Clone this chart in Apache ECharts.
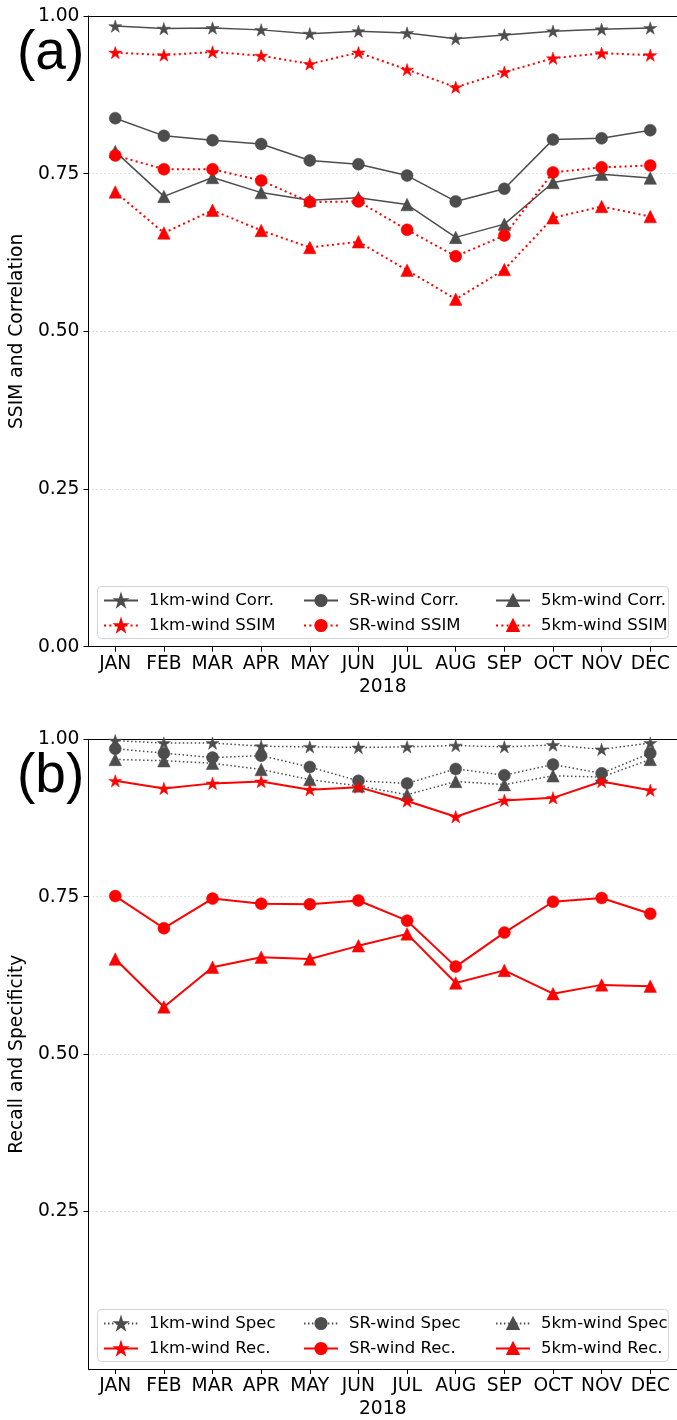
<!DOCTYPE html>
<html>
<head>
<meta charset="utf-8">
<script src="https://cdn.jsdelivr.net/npm/echarts@6/dist/echarts.min.js"></script>
<style>
html,body{margin:0;padding:0;background:#fff;}
#chart{width:677px;height:1420px;}
</style>
</head>
<body>
<div id="chart"></div>
<script>
// ---------- data ----------
const months = ['JAN','FEB','MAR','APR','MAY','JUN','JUL','AUG','SEP','OCT','NOV','DEC'];
const yTicks = [0, 0.25, 0.5, 0.75, 1.0];
const yTicksB = [0.25, 0.5, 0.75, 1.0];
// panel (a)
const corr1km = [0.984,0.980,0.981,0.978,0.972,0.976,0.973,0.964,0.970,0.976,0.979,0.981];
const ssim1km = [0.942,0.938,0.943,0.937,0.924,0.942,0.915,0.887,0.911,0.933,0.941,0.938];
const corrSR  = [0.838,0.810,0.803,0.797,0.771,0.765,0.747,0.706,0.726,0.804,0.806,0.819];
const ssimSR  = [0.779,0.757,0.757,0.739,0.705,0.706,0.661,0.619,0.652,0.752,0.760,0.763];
const corr5km = [0.785,0.714,0.744,0.720,0.708,0.712,0.701,0.649,0.670,0.736,0.749,0.743];
const ssim5km = [0.721,0.656,0.692,0.660,0.633,0.642,0.597,0.551,0.598,0.680,0.698,0.682];
// panel (b)
const spec1km = [0.998,0.994,0.994,0.989,0.988,0.987,0.988,0.990,0.988,0.991,0.984,0.994];
const specSR  = [0.985,0.978,0.971,0.974,0.956,0.934,0.930,0.953,0.943,0.960,0.946,0.978];
const spec5km = [0.968,0.966,0.962,0.952,0.936,0.926,0.912,0.933,0.928,0.942,0.940,0.968];
const rec1km  = [0.934,0.922,0.930,0.933,0.920,0.924,0.902,0.877,0.903,0.907,0.933,0.919];
const recSR   = [0.751,0.700,0.747,0.739,0.738,0.744,0.712,0.639,0.693,0.742,0.748,0.723];
const rec5km  = [0.651,0.575,0.638,0.654,0.651,0.672,0.691,0.613,0.633,0.596,0.610,0.608];

// ---------- styling ----------
const GRAY = '#4d4d4d', RED = '#ff0000';
const FONT = 'DejaVu Sans';
function starPath(){
  const pts = [];
  for (let i = 0; i < 10; i++) {
    const r = (i % 2 === 0) ? 1 : 0.381966;
    const a = Math.PI / 2 + i * Math.PI / 5;
    pts.push((r * Math.cos(a)).toFixed(4) + ' ' + (-r * Math.sin(a)).toFixed(4));
  }
  return 'path://M' + pts.join(' L') + ' Z';
}
const STAR = starPath();
const SYM = {star: STAR, circle: 'circle', tri: 'triangle'};
const SIZE = {star: 13, circle: 12, tri: 12.5};
const idx = months.map((m, i) => i);

function mk(name, vals, color, sym, dotted, gi){
  const lw = color === RED ? 2 : 1.5;
  return {
    name: name, type: 'line',
    xAxisIndex: gi * 2, yAxisIndex: gi,
    data: idx.map(i => [i, vals[i]]),
    symbol: SYM[sym], symbolSize: SIZE[sym], symbolKeepAspect: true,
    showAllSymbol: true,
    itemStyle: {color: color, borderColor: color, borderWidth: 0.5, opacity: 1},
    lineStyle: {color: color, width: lw, type: dotted ? [lw, lw * 1.65] : 'solid'},
    emphasis: {disabled: true},
    animation: false
  };
}

const panels = [
  {top: 16, height: 630.7, yname: 'SSIM and Correlation', label: '(a)', legTop: 586, yTickVals: yTicks},
  {top: 739.3, height: 630.4, yname: 'Recall and Specificity', label: '(b)', legTop: 1309, yTickVals: yTicksB}
];
const GL = 86, GW = 594.5;

const grid = [], xAxis = [], yAxis = [];
panels.forEach((p, gi) => {
  grid.push({left: GL, top: p.top, width: GW, height: p.height, containLabel: false});
  xAxis.push({
    type: 'value', gridIndex: gi, min: -0.55, max: 11.55, position: 'bottom',
    axisLine: {show: true, onZero: false, lineStyle: {color: '#000', width: 1}},
    axisTick: {show: true, customValues: idx, length: 5, lineStyle: {color: '#000', width: 1}},
    axisLabel: {show: true, customValues: idx, margin: 8, color: '#000', fontFamily: FONT, fontSize: 18.7,
      formatter: v => months[Math.round(v)]},
    splitLine: {show: false},
    name: '2018', nameLocation: 'middle', nameGap: 31,
    nameTextStyle: {color: '#000', fontFamily: FONT, fontSize: 18.7}
  });
  xAxis.push({
    type: 'value', gridIndex: gi, min: -0.55, max: 11.55, position: 'top',
    axisLine: {show: true, onZero: false, lineStyle: {color: '#000', width: 1}},
    axisTick: {show: false}, axisLabel: {show: false}, splitLine: {show: false}
  });
  yAxis.push({
    type: 'value', gridIndex: gi, min: 0, max: 1, interval: 0.25,
    axisLine: {show: true, onZero: false, lineStyle: {color: '#000', width: 1}},
    axisTick: {show: true, customValues: p.yTickVals, length: 5, lineStyle: {color: '#000', width: 1}},
    axisLabel: {show: true, customValues: p.yTickVals, margin: 9, color: '#000', fontFamily: FONT, fontSize: 18.7,
      formatter: v => v.toFixed(2)},
    splitLine: {show: true, lineStyle: {color: '#cccccc', width: 0.8, type: [1.5, 2.5]}},
    name: p.yname, nameLocation: 'middle', nameRotate: 90, nameGap: 52,
    nameTextStyle: {color: '#000', fontFamily: FONT, fontSize: 18.7}
  });
});

const series = [
  mk('1km-wind Corr.', corr1km, GRAY, 'star', false, 0),
  mk('SR-wind Corr.', corrSR, GRAY, 'circle', false, 0),
  mk('5km-wind Corr.', corr5km, GRAY, 'tri', false, 0),
  mk('1km-wind SSIM', ssim1km, RED, 'star', true, 0),
  mk('SR-wind SSIM', ssimSR, RED, 'circle', true, 0),
  mk('5km-wind SSIM', ssim5km, RED, 'tri', true, 0),
  mk('1km-wind Spec', spec1km, GRAY, 'star', true, 1),
  mk('SR-wind Spec', specSR, GRAY, 'circle', true, 1),
  mk('5km-wind Spec', spec5km, GRAY, 'tri', true, 1),
  mk('1km-wind Rec.', rec1km, RED, 'star', false, 1),
  mk('SR-wind Rec.', recSR, RED, 'circle', false, 1),
  mk('5km-wind Rec.', rec5km, RED, 'tri', false, 1)
];

const legendNames = [
  [['1km-wind Corr.', 'SR-wind Corr.', '5km-wind Corr.'], ['1km-wind SSIM', 'SR-wind SSIM', '5km-wind SSIM']],
  [['1km-wind Spec', 'SR-wind Spec', '5km-wind Spec'], ['1km-wind Rec.', 'SR-wind Rec.', '5km-wind Rec.']]
];
const colX = [103, 303, 495];
const legend = [];
const graphic = [];
panels.forEach((p, gi) => {
  graphic.push({type: 'rect', z: 1, shape: {x: 97.5, y: p.legTop + 0.5, width: 571, height: 52, r: 4},
    style: {fill: 'rgba(255,255,255,0.8)', stroke: '#d5d5d5', lineWidth: 1}});
  graphic.push({type: 'text', z: 5, left: 17, top: p.top + 10,
    style: {text: p.label, font: '55px "Liberation Sans"', fill: '#000'}});
  legendNames[gi].forEach((row, ri) => {
    row.forEach((nm, ci) => {
      legend.push({
        data: [nm], left: colX[ci], top: p.legTop + 6 + ri * 25, padding: 0,
        itemWidth: 34, itemHeight: 14, itemGap: 0, selectedMode: false,
        textStyle: {color: '#000', fontFamily: FONT, fontSize: 16.5, padding: [0, 0, 0, 6]}
      });
    });
  });
});

const chart = echarts.init(document.getElementById('chart'), null, {renderer: 'canvas'});
chart.setOption({
  backgroundColor: '#fff',
  animation: false,
  grid: grid, xAxis: xAxis, yAxis: yAxis,
  legend: legend, graphic: graphic, series: series
});
</script>
</body>
</html>
